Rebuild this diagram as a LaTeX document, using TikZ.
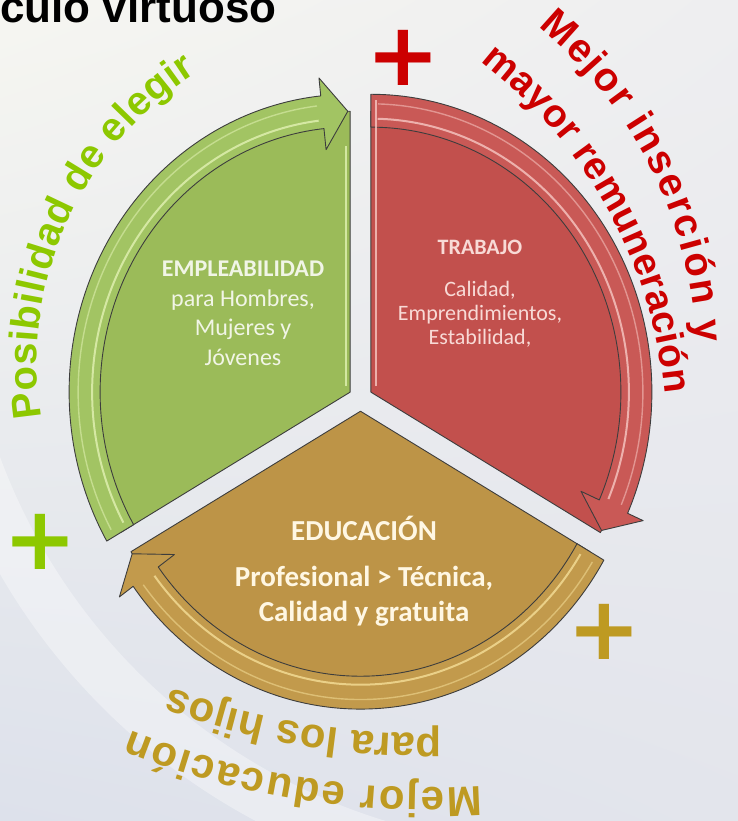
\documentclass[tikz,border=0pt]{standalone}
\usepackage{fontspec}
\setmainfont{Carlito}
\newfontfamily\arialf{Liberation Sans}
\newfontfamily\arialbf{Liberation Sans Bold}
\newfontfamily\dejaf{DejaVu Sans}
\usetikzlibrary{decorations.text,calc,shadings}

\definecolor{bgUL}{HTML}{F6F6F1}
\definecolor{bgUR}{HTML}{EEEEF0}
\definecolor{bgLL}{HTML}{DDE1EB}
\definecolor{bgLR}{HTML}{E3E5EC}
\definecolor{edgec}{HTML}{3D3D3D}
\definecolor{gbody}{HTML}{9BBB59}
\definecolor{gband}{HTML}{A2C463}
\definecolor{ghl}{HTML}{E2F2B4}
\definecolor{rbody}{HTML}{C2504D}
\definecolor{rband}{HTML}{C95956}
\definecolor{rhl}{HTML}{F7C8C3}
\definecolor{bbody}{HTML}{BD9447}
\definecolor{bband}{HTML}{C29A4C}
\definecolor{bhl}{HTML}{F4DE98}
\definecolor{limec}{HTML}{8DC800}
\definecolor{redc}{HTML}{CC0000}
\definecolor{goldc}{HTML}{BE9A22}
\definecolor{gtext}{HTML}{F1F5E6}
\definecolor{rtext}{HTML}{F8DAD6}
\definecolor{btext}{HTML}{FFF7E3}

\newcommand\gcurve{\arialbf\fontsize{40}{40}\selectfont\color{limec}}
\newcommand\rcurveA{\arialbf\fontsize{40}{40}\selectfont\color{redc}}
\newcommand\rcurveB{\arialbf\fontsize{39}{39}\selectfont\color{redc}}
\newcommand\bcurve{\arialbf\fontsize{42}{42}\selectfont\color{goldc}}

\newcommand\wheelpart[4]{%
  \begin{scope}[shift={(#1:12)}]
    \pgfmathsetmacro\wpTail{#1+60}%
    \pgfmathsetmacro\wpHead{#1-60}%
    \pgfmathsetmacro\wpBase{#1-54}%
    \pgfmathsetmacro\wpTip{#1-59.5}%
    \filldraw[fill=#2, draw=edgec, line width=0.9pt, line join=round]
      (0,0) -- (\wpTail:265) arc[start angle=\wpTail, end angle=\wpHead, radius=265] -- cycle;
    \filldraw[fill=#3, draw=edgec, line width=0.9pt, line join=round]
      (\wpTail:250) -- (\wpTail:281)
      arc[start angle=\wpTail, end angle=\wpBase, radius=281]
      -- (\wpBase:298) -- (\wpTip:265) -- (\wpBase:230) -- (\wpBase:250)
      arc[start angle=\wpBase, end angle=\wpTail, radius=250] -- cycle;
    \draw[#4, line width=2pt, opacity=0.8]
      (\wpTail-1.5:258) arc[start angle=\wpTail-1.5, end angle=\wpBase+1, radius=258];
    \draw[#4, line width=1.4pt, opacity=0.55]
      (\wpTail-1.5:272) arc[start angle=\wpTail-1.5, end angle=\wpBase+1, radius=272];
  \end{scope}}

\begin{document}
\begin{tikzpicture}[x=1pt,y=1pt]
\useasboundingbox (0,0) rectangle (738,-821);
\shade[upper left=bgUL, upper right=bgUR, lower left=bgLL, lower right=bgLR] (0,0) rectangle (738,-821);
\draw[white, line width=50pt, opacity=0.35] ($(560,-250)+(192:622)$) arc[start angle=192, end angle=255, radius=622];

% title
\node[anchor=base west, inner sep=0pt, font=\arialbf\fontsize{44}{44}\selectfont] (title) at (0,-23) {culo virtuoso};

% wheel
\begin{scope}[shift={(360.5,-398.5)}, yscale=1.06]
  \wheelpart{150}{gbody}{gband}{ghl}
  \wheelpart{30}{rbody}{rband}{rhl}
  \wheelpart{270}{bbody}{bband}{bhl}
\end{scope}
\draw[ghl, line width=2pt, opacity=0.8] (345.5,-386) -- (345.5,-146);
\draw[rhl, line width=2pt, opacity=0.8] (375.5,-386) -- (375.5,-100);

% sector texts
\node[text=gtext, align=center, font=\fontsize{24}{29.5}\selectfont] (emp) at (243,-313.5)
  {\textbf{EMPLEABILIDAD}\\para Hombres,\\Mujeres y\\Jóvenes};
\node[text=rtext, font=\bfseries\fontsize{22}{24}\selectfont] (trab) at (480,-247) {TRABAJO};
\node[text=rtext, align=center, font=\fontsize{22}{24}\selectfont] (trabtxt) at (480,-314.5)
  {Calidad,\\Emprendimientos,\\Estabilidad,};
\node[text=btext, font=\bfseries\fontsize{29}{35}\selectfont] (edu) at (364,-528) {EDUCACIÓN};
\node[text=btext, align=center, font=\bfseries\fontsize{29}{35}\selectfont] (edutxt) at (364,-596)
  {Profesional > Técnica,\\Calidad y gratuita};

% curved texts
\path[decorate, decoration={text along path, text align={fit to path},
  text={|\gcurve|Posibilidad de elegir}}]
  ($(380,-363)+(189.2:343)$) arc[start angle=189.2, end angle=122.3, radius=343];
\path[decorate, decoration={text along path, text align={fit to path},
  text={|\rcurveA|Mejor inserción y}}]
  ($(259,-364)+(50.4:438)$) arc[start angle=50.4, end angle=2.8, radius=438];
\path[decorate, decoration={text along path, text align={fit to path},
  text={|\rcurveB|mayor remuneración}}]
  ($(189,-440)+(52.4:478)$) arc[start angle=52.4, end angle=5.5, radius=478];
\path[decorate, decoration={text along path, text align={fit to path},
  text={|\bcurve|Mejor educación}}]
  ($(430,25)+(-86.4:813)$) arc[start angle=-86.4, end angle=-111.6, radius=813];
\path[decorate, decoration={text along path, text align={fit to path},
  text={|\bcurve|para los hijos}}]
  ($(430,25)+(-89.1:759)$) arc[start angle=-89.1, end angle=-110.0, radius=759];

% plus signs
\node[text=redc, font=\dejaf\bfseries\fontsize{88}{88}\selectfont, inner sep=0pt] (plusr) at (403,-58) {+};
\node[text=limec, font=\dejaf\bfseries\fontsize{88}{88}\selectfont, inner sep=0pt] (plusg) at (40,-542) {+};
\node[text=goldc, font=\dejaf\bfseries\fontsize{88}{88}\selectfont, inner sep=0pt] (plusb) at (604,-632) {+};
\end{tikzpicture}
\end{document}
